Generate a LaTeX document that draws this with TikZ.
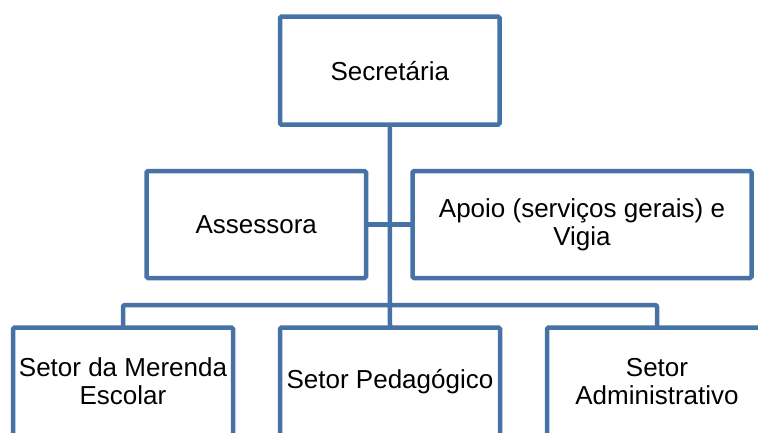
\documentclass[tikz,border=0pt]{standalone}
\usepackage{fontspec}
\setmainfont{Liberation Sans}
\usetikzlibrary{positioning}
\definecolor{orgblue}{RGB}{70,114,165}

\begin{document}
\begin{tikzpicture}[x=1pt,y=-1pt,node distance=47pt,
  font=\fontsize{26}{28}\selectfont,
  box/.style={draw=orgblue,line width=4.5pt,rounded corners=1.5pt,fill=white,
    minimum width=219.5pt,minimum height=108pt,inner sep=2pt,outer sep=0pt,align=center},
  conn/.style={draw=orgblue,line width=4.5pt,rounded corners=2pt}]
\useasboundingbox[fill=white] (0,0) rectangle (758,432);
\clip (0,0) rectangle (758,432);
% top
\node[box] (sec) at (389.75,70.6) {Secret\'aria};
% middle row
\node[box,minimum height=107pt] (ass) at (256.25,224.5) {Assessora};
\node[box,minimum height=107pt,minimum width=339pt,right=46.5pt of ass] (apo) {Apoio (servi\c{c}os gerais) e\\Vigia};
% bottom row
\node[box,minimum width=220pt] (ped) at (390,381.5) {Setor Pedag\'ogico};
\node[box,minimum width=220pt,left=of ped] (mer) {Setor da Merenda\\Escolar};
\node[box,minimum width=220pt,right=of ped] (adm) {Setor\\Administrativo};
\coordinate (bus) at (390,305);
% lines
\draw[conn] (sec.south) -- (ped.north);
\draw[conn] (ass.east) -- (apo.west);
\draw[conn] (mer.north) |- (bus) -| (adm.north);
\end{tikzpicture}
\end{document}
